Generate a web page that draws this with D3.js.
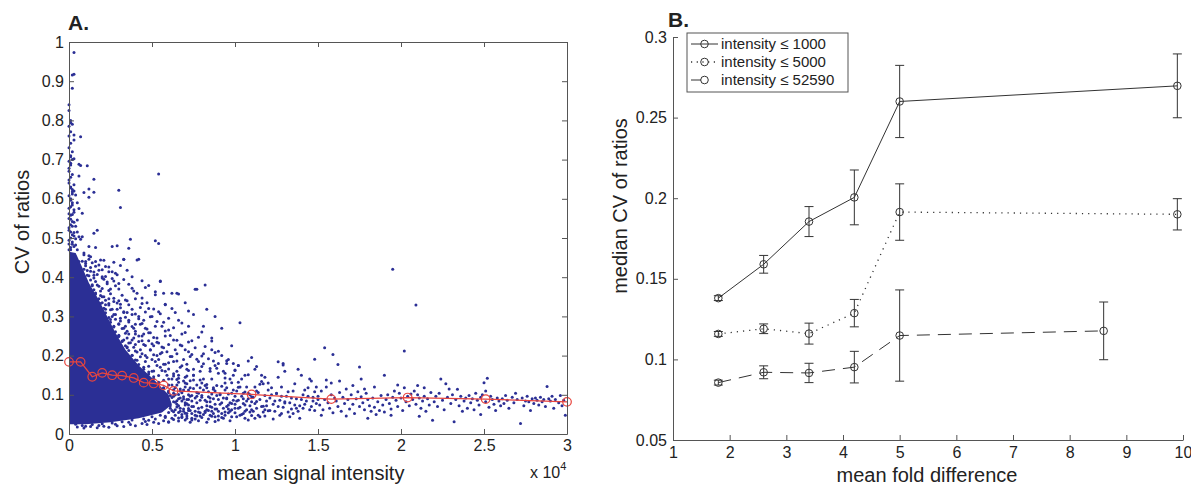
<!DOCTYPE html>
<meta charset="utf-8">
<title>CV of ratios</title>
<style>
  body { margin: 0; background: #fff; }
  svg { font-family: "Liberation Sans", Arial, sans-serif; }
  .axis path, .axis line { stroke: #555; stroke-width: 1px; }
  .axis text { font-size: 16px; fill: #222; }
  .title { font-size: 20px; fill: #222; }
  .panel { font-size: 21px; font-weight: bold; fill: #222; }
</style>

<body>
<svg width="1191" height="487"></svg>
</body>

<script src="https://d3js.org/d3.v7.min.js"></script>
<script>
  // ---------- panel A data ----------
  // x = mean signal intensity in hundreds (axis shows x 10^4), y = CV of ratios in thousandths
  var xTicksA = [0, 50, 100, 150, 200, 250, 300];
  var yTicksA = [0, 100, 200, 300, 400, 500, 600, 700, 800, 900, 1000];

  // outline of the saturated (solid blue) mass of points near low intensity
  var coreOutline = [[0, 25], [0, 465], [4, 462], [8, 425], [12, 385], [18, 342], [23, 300], [28, 258],
    [34, 215], [42, 175], [52, 135], [60, 100], [62, 75], [56, 55], [42, 40], [25, 30], [10, 25]];

  // flat pairs x,y
  var outlierPts = [3,973, 2,916, 3,918, 2,882, 1,794, 2,790, 1,771, 3,763, 7,758, 3,750, 1,707, 2,700,
    1,691, 6,688, 7,685, 11,684, 6,658, 15,650, 54,663, 2,624, 3,620, 9,616, 12,625, 12,604, 15,617,
    30,622, 31,578, 1,600, 2,590, 1,580, 3,572, 2,560, 1,548, 8,563, 5,546, 17,520, 15,512, 2,530,
    1,515, 3,505, 7,497, 6,503, 8,503, 37,497, 52,493, 54,486, 12,478, 16,476, 26,478, 29,480, 36,474,
    2,490, 4,482, 1,470, 33,446, 42,446, 55,390, 82,380, 77,369, 103,284, 72,314, 66,357, 129,180,
    9,462, 12,446, 0,640, 1,630, 2,612, 1,655, 0,670, 1,710, 2,720, 4,610, 5,590, 6,575, 4,530, 5,515,
    0,562, 3,540, 0,520, 4,498, 0,485, 3,478, 5,470,
    0,470, 1,476, 2,484, 0,494, 1,500, 2,508, 3,514, 0,526, 1,534, 2,542, 0,550, 1,558, 3,566, 0,576,
    2,584, 1,596, 0,608, 2,618, 1,628, 3,636, 0,648, 2,662, 0,678, 1,686, 0,696, 3,702, 0,730, 1,742,
    0,760, 0,785, 1,800, 0,825, 0,840];

  var fringePts = [9,457, 13,452, 33,445, 41,444, 10,435, 16,440, 19,444, 22,427, 18,418, 24,414,
    28,410, 15,405, 20,401, 23,388, 26,397, 30,384, 55,389, 76,369, 38,372, 46,374, 52,363, 57,359,
    62,359, 65,359, 20,350, 24,345, 27,338, 22,330, 31,331, 35,340, 40,345, 44,333, 48,320, 29,318,
    33,312, 38,305, 42,300, 26,300, 31,295, 36,290, 45,290, 50,300, 54,312, 58,330, 62,320, 70,335,
    75,305, 83,318, 30,280, 34,275, 39,270, 43,280, 47,268, 52,275, 57,285, 60,265, 66,290, 72,275,
    80,260, 88,300, 35,262, 40,255, 44,250, 49,258, 53,245, 58,250, 63,240, 68,255, 74,238, 86,245,
    92,270, 30,250, 33,240, 36,232, 39,245, 42,236, 45,228, 48,238, 51,225, 54,232, 57,220, 60,228,
    64,215, 68,225, 72,210, 76,220, 81,205, 86,215, 92,200, 98,225, 35,220, 40,212, 44,205, 49,215,
    53,200, 56,208, 61,198, 65,205, 69,190, 73,198, 78,185, 84,192, 90,180, 96,190, 102,175, 110,195,
    47,195, 52,185, 58,178, 63,185, 67,170, 71,178, 75,165, 80,172, 85,160, 89,168, 94,155, 100,162,
    106,150, 112,165, 118,145,
    6,440, 9,420, 11,405, 14,378, 16,360, 20,335, 22,318, 25,292, 27,275, 30,252, 32,236, 35,222,
    38,200, 41,188, 45,170, 48,158, 51,146, 54,132, 57,118, 60,108, 63,96, 65,85, 66,72, 64,62, 60,55,
    55,48, 50,44, 45,38, 38,36, 32,31, 26,28, 20,26, 14,24, 8,22, 4,25, 2,30, 10,20, 18,22, 28,25,
    36,30, 46,32, 52,38, 58,42, 70,36, 78,34, 62,40, 10,440, 13,415, 15,398, 17,380, 19,365, 21,350,
    24,333, 26,318, 28,305, 31,288, 33,270, 36,255, 38,240, 40,228, 43,215, 46,200, 50,190, 53,175,
    56,162, 59,150, 62,140, 65,125, 67,110, 69,95, 70,80, 72,60, 68,50, 12,455, 16,428, 20,398,
    25,370, 30,340, 35,310, 40,280, 45,255, 50,230, 55,205, 60,182, 65,160, 70,145, 75,150];

  var edgePts = [8,441, 14,437, 21,443, 27,438, 10,429, 13,425, 18,431, 24,426, 31,430,
    11,417, 15,413, 20,419, 26,414, 35,418, 12,404, 17,407, 22,402, 29,406, 38,401,
    13,393, 16,389, 21,395, 27,390, 33,394, 44,391, 14,381, 18,377, 23,383, 28,378, 36,382, 48,379,
    15,368, 20,371, 24,366, 30,370, 39,365, 16,357, 19,353, 25,358, 32,354, 41,359, 52,355,
    18,345, 22,341, 27,346, 34,342, 44,347, 19,333, 24,329, 29,334, 36,330, 47,335, 58,331,
    21,321, 25,317, 31,322, 38,318, 43,323, 51,319, 22,309, 27,305, 33,310, 40,306, 46,311, 55,307, 64,310,
    24,297, 28,293, 34,298, 42,294, 49,299, 60,295, 25,285, 30,281, 36,286, 44,282, 53,287, 68,283,
    27,273, 32,269, 38,274, 46,270, 56,275, 63,271, 28,261, 34,257, 40,262, 48,258, 58,263, 70,259,
    30,249, 35,245, 42,250, 51,246, 61,251, 78,247, 32,237, 37,233, 44,238, 53,234, 65,239, 72,235,
    34,225, 39,221, 46,226, 56,222, 67,227, 82,223, 36,213, 41,209, 49,214, 59,210, 70,215, 90,211,
    38,201, 43,197, 51,202, 62,198, 74,203, 80,199, 40,189, 46,185, 54,190, 65,186, 77,191, 95,187,
    42,177, 48,173, 57,178, 68,174, 81,179, 88,175, 45,165, 51,161, 60,166, 72,162, 85,167, 100,163,
    48,153, 54,149, 63,154, 75,150, 90,155, 108,151, 51,141, 57,137, 66,142, 79,138, 94,143,
    54,129, 60,125, 70,130, 83,126, 98,131, 115,127, 57,117, 63,113, 73,118, 87,114, 102,119,
    60,105, 66,101, 77,106, 91,102, 106,107, 125,103, 62,93, 69,89, 80,94, 95,90, 110,95,
    64,81, 71,77, 83,82, 98,78, 113,83, 130,79, 65,69, 72,65, 85,70, 100,66, 117,71,
    63,57, 70,53, 82,58, 96,54, 120,59, 58,45, 66,41, 79,46, 92,42, 110,47, 48,35, 60,31, 74,36, 88,32,
    5,18, 9,15, 13,19, 17,16, 21,20, 24,17, 29,21, 33,19, 37,24, 40,21, 44,27, 47,24, 51,30, 54,27,
    57,34, 60,30, 63,37, 66,33, 68,44, 71,40, 73,30, 76,38, 80,42, 83,30, 86,45, 90,36, 94,48, 97,34,
    101,44, 105,52, 108,36, 112,40, 118,46, 123,38, 128,52, 133,44, 137,66,
    64,100, 66,90, 68,84, 70,74, 72,88, 74,98, 67,66, 69,58, 71,46];

  var bandPts = [60,140, 62,125, 64,118, 66,132, 68,105, 61,98, 63,82, 65,76, 67,92, 69,64, 62,60,
    64,48, 66,55, 68,42, 70,120, 60,110, 67,115, 69,135, 61,72, 63,148, 71,128, 72,112, 73,96, 74,84,
    75,70, 76,58, 77,46, 78,104, 79,118, 71,88, 72,74, 73,60, 74,52, 75,138, 76,92, 77,80, 78,66,
    79,54, 80,98, 80,130, 71,148, 74,40, 77,125, 81,112, 82,86, 83,72, 84,60, 85,48, 86,102, 87,90,
    88,76, 89,64, 81,140, 82,55, 83,118, 84,95, 85,82, 86,68, 87,52, 88,110, 89,124, 90,88, 90,58,
    84,38, 88,44, 91,100, 92,80, 93,66, 94,112, 95,92, 96,74, 97,58, 98,104, 99,86, 92,52, 94,130,
    96,64, 98,44, 100,96, 100,76, 95,118, 93,40, 97,140, 101,110, 102,86, 103,68, 104,96, 105,78,
    106,58, 107,120, 108,90, 109,72, 110,62, 103,48, 105,104, 107,84, 109,100, 102,132, 106,40,
    111,94, 112,78, 113,66, 114,106, 115,88, 116,70, 117,56, 118,98, 119,84, 120,112, 112,120,
    116,134, 118,62, 114,48, 121,92, 123,76, 125,104, 127,86, 129,68, 131,96, 133,80, 135,110,
    137,90, 139,72, 141,100, 143,84, 145,62, 147,94, 149,78, 124,58, 128,120, 132,56, 136,128,
    140,150, 144,118, 148,108, 126,145, 138,165, 146,135, 150,88, 134,64, 142,76, 111,58, 113,110,
    115,44, 117,128, 119,72, 121,60, 122,118, 124,84, 126,70, 128,96, 130,82, 132,108, 134,92,
    136,74, 138,58, 140,88, 142,112, 144,96, 146,70, 148,60, 149,120, 127,48, 139,40, 145,140,
    130,160, 126,184, 129,176, 113,172, 108,186, 102,175, 99,180, 95,180, 87,186, 88,208, 86,237,
    81,275, 120,130, 116,150, 122,100, 135,52, 141,66, 147,84,
    61,66, 63,104, 65,139, 67,58, 69,112, 71,52, 72,100, 73,136, 74,70, 75,116, 76,48, 77,96, 78,56,
    79,86, 80,68, 81,50, 82,124, 83,62, 84,108, 85,92, 86,58, 87,118, 88,64, 89,98, 90,46, 91,76,
    92,122, 93,92, 94,56, 95,70, 96,102, 97,80, 98,62, 99,112, 100,54, 101,84, 102,66, 103,120,
    104,50, 105,90, 106,74, 107,62, 108,104, 109,56, 110,82, 104,140, 99,150, 93,160, 86,140, 79,160,
    71,165, 66,150, 58,160, 55,170, 50,160];

  var tailPts = [150,96, 151,74, 152,110, 153,62, 154,88, 155,120, 156,80, 157,66, 158,100, 159,54,
    160,92, 152,48, 155,138, 158,130, 154,220, 159,203, 148,191, 162,177, 161,84, 162,70, 163,106,
    164,58, 165,94, 166,78, 167,115, 168,88, 169,64, 170,100, 171,76, 172,52, 173,90, 174,108, 175,70,
    163,135, 167,46, 171,124, 175,171, 176,140, 176,95, 177,80, 178,62, 179,104, 180,88, 181,72,
    182,58, 183,92, 184,68, 185,50, 186,82, 187,60, 188,98, 189,74, 190,56, 178,115, 184,120, 190,150,
    191,88, 180,40, 192,100, 193,78, 194,64, 195,94, 196,110, 197,86, 198,70, 199,104, 200,92, 201,60,
    202,118, 203,82, 204,96, 205,72, 195,420, 202,212, 198,125, 194,48, 206,102, 207,88, 208,110,
    209,76, 210,124, 210,100, 211,92, 212,66, 213,84, 214,96, 215,58, 216,90, 217,74, 218,106, 219,35,
    220,82, 209,329, 211,45, 214,118, 221,96, 222,70, 223,104, 224,140, 225,86, 226,62, 227,128,
    228,94, 229,115, 230,78, 231,100, 232,31, 233,88, 234,114, 235,72, 236,96, 237,58, 238,84, 239,92,
    240,66, 241,98, 242,80, 243,90, 244,62, 245,104, 246,86, 247,74, 248,94, 249,100, 250,131, 251,82,
    252,142, 253,68, 254,96, 255,88, 256,76, 257,60, 258,92, 259,84, 260,72, 251,110, 248,50, 261,90,
    262,78, 263,98, 264,86, 265,66, 267,94, 268,80, 269,104, 270,88, 272,27, 273,92, 274,72, 275,84,
    276,96, 277,82, 278,60, 279,90, 280,78, 281,92, 282,86, 283,74, 284,94, 285,82, 286,88, 287,70,
    288,121, 289,90, 290,84, 291,96, 292,66, 293,88, 295,80, 296,98, 297,72, 298,86, 299,48];

  // binned medians (red line)
  var medX = [0, 7, 14, 20, 26, 32, 39, 45, 51, 57, 63, 110, 158, 204, 251, 300];
  var medY = [184, 184, 146, 156, 150, 149, 143, 131, 129, 124, 110, 101, 89, 93, 89, 82];

  // ---------- panel B data ----------
  var seriesNames = ["intensity \u2264 1000", "intensity \u2264 5000", "intensity \u2264 52590"];
  var fold1 = [1.8, 2.6, 3.4, 4.2, 5.0, 9.9];
  var cv1 = [0.138, 0.159, 0.1855, 0.2005, 0.260, 0.2697];
  var err1 = [0.0015, 0.0055, 0.0093, 0.017, 0.0224, 0.0198];
  var fold2 = [1.8, 2.6, 3.4, 4.2, 5.0, 9.9];
  var cv2 = [0.1158, 0.119, 0.116, 0.1287, 0.1914, 0.190];
  var err2 = [0.0015, 0.003, 0.0065, 0.0085, 0.0175, 0.0097];
  var fold3 = [1.8, 2.6, 3.4, 4.2, 5.0, 8.6];
  var cv3 = [0.0856, 0.092, 0.0916, 0.0952, 0.1148, 0.1177];
  var err3 = [0.0015, 0.004, 0.006, 0.0098, 0.0283, 0.0179];
  var xTicksB = [1, 2, 3, 4, 5, 6, 7, 8, 9, 10];
  var yTicksB = [0.05, 0.1, 0.15, 0.2, 0.25, 0.3];

  const svg = d3.select("svg");
  const blue = "#2b2f95", red = "#e8453e", ink = "#333";

  function pairs(a) {
    var out = [];
    for (var i = 0; i < a.length; i += 2) out.push([a[i], a[i + 1]]);
    return out;
  }

  // ================= panel A =================
  const xA = d3.scaleLinear().domain([0, 300]).range([69, 567]);
  const yA = d3.scaleLinear().domain([0, 1000]).range([434, 42]);
  const gA = svg.append("g");

  gA.append("path")
    .attr("d", d3.line().x(d => xA(d[0])).y(d => yA(d[1]))(coreOutline) + "Z")
    .attr("fill", blue);

  var allPts = pairs(outlierPts).concat(pairs(fringePts), pairs(edgePts), pairs(bandPts), pairs(tailPts));
  gA.selectAll(".dot")
    .data(allPts)
    .enter().append("circle")
    .attr("class", "dot")
    .attr("cx", d => xA(d[0]))
    .attr("cy", d => yA(d[1]))
    .attr("r", 1.5)
    .attr("fill", blue);

  var med = medX.map((x, i) => [x, medY[i]]);
  gA.append("path")
    .attr("d", d3.line().x(d => xA(d[0])).y(d => yA(d[1]))(med))
    .attr("fill", "none")
    .attr("stroke", red)
    .attr("stroke-width", 1.3);
  gA.selectAll(".med")
    .data(med)
    .enter().append("circle")
    .attr("cx", d => xA(d[0]))
    .attr("cy", d => yA(d[1]))
    .attr("r", 4.3)
    .attr("fill", "none")
    .attr("stroke", red)
    .attr("stroke-width", 1.2);

  // box axes, ticks pointing inward (matlab style)
  gA.append("g").attr("class", "axis").attr("transform", `translate(0,${yA(0)})`)
    .call(d3.axisBottom(xA).tickValues(xTicksA).tickFormat(d => d / 100).tickSizeInner(-5).tickSizeOuter(0).tickPadding(6));
  gA.append("g").attr("class", "axis").attr("transform", `translate(0,${yA(1000)})`)
    .call(d3.axisTop(xA).tickValues(xTicksA).tickFormat("").tickSizeInner(-5).tickSizeOuter(0));
  gA.append("g").attr("class", "axis").attr("transform", `translate(${xA(0)},0)`)
    .call(d3.axisLeft(yA).tickValues(yTicksA).tickFormat(d => d / 1000).tickSizeInner(-5).tickSizeOuter(0).tickPadding(5));
  gA.append("g").attr("class", "axis").attr("transform", `translate(${xA(300)},0)`)
    .call(d3.axisRight(yA).tickValues(yTicksA).tickFormat("").tickSizeInner(-5).tickSizeOuter(0));

  gA.append("text").attr("class", "title")
    .attr("x", 311).attr("y", 480).attr("text-anchor", "middle")
    .text("mean signal intensity");
  gA.append("text").attr("class", "title")
    .attr("transform", "translate(29,222) rotate(-90)").attr("text-anchor", "middle")
    .text("CV of ratios");
  var mult = gA.append("text").attr("x", 530).attr("y", 478).attr("font-size", 16).attr("fill", "#222");
  mult.append("tspan").text("x 10");
  mult.append("tspan").attr("dy", -8).attr("font-size", 11).text("4");
  gA.append("text").attr("class", "panel").attr("x", 68).attr("y", 30).text("A.");

  // ================= panel B =================
  const xB = d3.scaleLinear().domain([1, 10]).range([673, 1183]);
  const yB = d3.scaleLinear().domain([0.05, 0.3]).range([440, 37]);
  const gB = svg.append("g");

  gB.append("g").attr("class", "axis").attr("transform", `translate(0,${yB(0.05)})`)
    .call(d3.axisBottom(xB).tickValues(xTicksB).tickFormat(d3.format("d")).tickSizeInner(-5).tickSizeOuter(0).tickPadding(7));
  gB.append("g").attr("class", "axis").attr("transform", `translate(${xB(1)},0)`)
    .call(d3.axisLeft(yB).tickValues(yTicksB).tickFormat(d => +d.toFixed(2)).tickSizeInner(-5).tickSizeOuter(0).tickPadding(6));

  var series = [
    { name: seriesNames[0], x: fold1, y: cv1, e: err1, dash: null },
    { name: seriesNames[1], x: fold2, y: cv2, e: err2, dash: "1.2,5" },
    { name: seriesNames[2], x: fold3, y: cv3, e: err3, dash: "13,8" }
  ];

  series.forEach(function (s) {
    var pts = s.x.map((x, i) => ({ x: x, y: s.y[i], e: s.e[i] }));
    var g = gB.append("g");
    g.append("path")
      .attr("d", d3.line().x(d => xB(d.x)).y(d => yB(d.y))(pts))
      .attr("fill", "none")
      .attr("stroke", ink)
      .attr("stroke-width", s.dash === "1.2,5" ? 1.3 : 1)
      .attr("stroke-dasharray", s.dash);
    var eb = g.selectAll(".eb").data(pts).enter().append("g").attr("stroke", ink).attr("stroke-width", 1);
    eb.append("line")
      .attr("x1", d => xB(d.x)).attr("x2", d => xB(d.x))
      .attr("y1", d => yB(d.y - d.e)).attr("y2", d => yB(d.y + d.e));
    eb.append("line")
      .attr("x1", d => xB(d.x) - 4.5).attr("x2", d => xB(d.x) + 4.5)
      .attr("y1", d => yB(d.y + d.e)).attr("y2", d => yB(d.y + d.e));
    eb.append("line")
      .attr("x1", d => xB(d.x) - 4.5).attr("x2", d => xB(d.x) + 4.5)
      .attr("y1", d => yB(d.y - d.e)).attr("y2", d => yB(d.y - d.e));
    g.selectAll(".mk").data(pts).enter().append("circle")
      .attr("cx", d => xB(d.x)).attr("cy", d => yB(d.y))
      .attr("r", 3.8)
      .attr("fill", "none")
      .attr("stroke", ink)
      .attr("stroke-width", 1);
  });

  // legend
  var lg = gB.append("g");
  lg.append("rect").attr("x", 687).attr("y", 33).attr("width", 161).attr("height", 59)
    .attr("fill", "#fff").attr("stroke", "#555").attr("stroke-width", 1);
  series.forEach(function (s, i) {
    var y = 44 + i * 18;
    lg.append("line").attr("x1", 691).attr("x2", s.dash === "13,8" ? 701 : 718)
      .attr("y1", y).attr("y2", y)
      .attr("stroke", ink).attr("stroke-width", s.dash === "1.2,5" ? 1.3 : 1)
      .attr("stroke-dasharray", s.dash === "13,8" ? null : (s.dash ? "1.2,4.5" : null));
    lg.append("circle").attr("cx", 704.5).attr("cy", y).attr("r", 3.8)
      .attr("fill", "none").attr("stroke", ink);
    lg.append("text").attr("x", 721).attr("y", y + 5).attr("font-size", 15).attr("fill", "#222")
      .text(s.name);
  });

  gB.append("text").attr("class", "title")
    .attr("x", 927).attr("y", 482).attr("text-anchor", "middle")
    .text("mean fold difference");
  gB.append("text").attr("class", "title")
    .attr("transform", "translate(627,206) rotate(-90)").attr("text-anchor", "middle")
    .text("median CV of ratios");
  gB.append("text").attr("class", "panel").attr("x", 668).attr("y", 27).text("B.");
</script>
